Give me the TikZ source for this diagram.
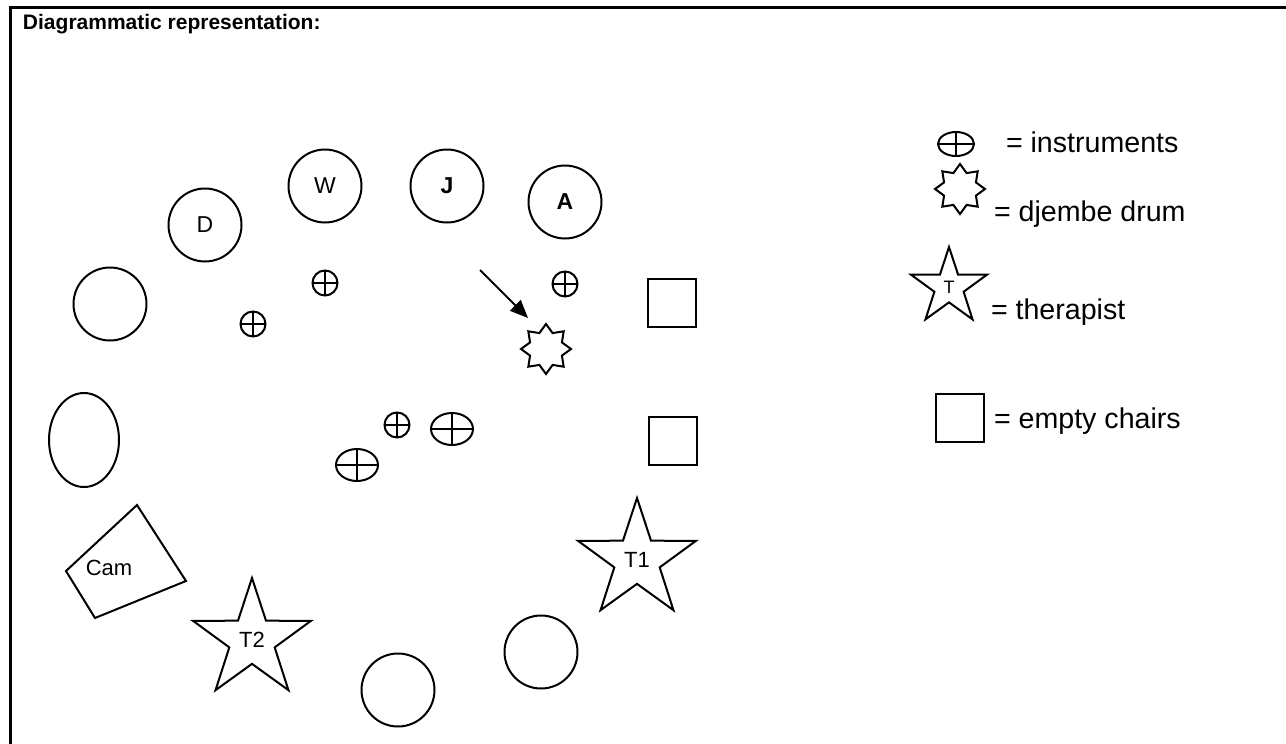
\documentclass[tikz,border=0pt]{standalone}
\usepackage{fontspec}
\setmainfont{Liberation Sans}
\usetikzlibrary{shapes.geometric, arrows.meta, positioning, calc}

\begin{document}
\begin{tikzpicture}[x=1pt, y=-1pt, line width=2pt,
  seat/.style={circle, draw, minimum size=73pt, inner sep=0pt, font=\fontsize{23}{25}\selectfont},
  boldseat/.style={seat, font=\bfseries\fontsize{23}{25}\selectfont},
  chair/.style={rectangle, draw, minimum size=48pt, inner sep=0pt},
  instr/.style={ellipse, draw, minimum width=25pt, minimum height=25pt, inner sep=0pt,
    path picture={\draw (path picture bounding box.north) -- (path picture bounding box.south)
      (path picture bounding box.west) -- (path picture bounding box.east);}},
  djembe/.style={star, star points=8, star point ratio=1.45, draw, minimum size=50pt, inner sep=0pt},
  therapist/.style={star, star points=5, star point ratio=2.6, draw, minimum size=124pt, inner sep=0pt, font=\fontsize{22}{24}\selectfont},
  key/.style={anchor=base west, inner sep=0pt, font=\fontsize{28.6}{30}\selectfont},
  >={Triangle[length=18pt, width=15pt]}]
\useasboundingbox (0,0) rectangle (1286,744);
\draw[line width=3pt] (10,744) -- (10,7) -- (1286,7);
\node[anchor=base west, inner sep=0pt, font=\bfseries\fontsize{21}{24}\selectfont] (title) at (22,30) {Diagrammatic representation:};
% people round the circle
\node[seat] (d) at (205,225) {D};
\node[seat] (w) at (325,186) {W};
\node[boldseat, right=47pt of w] (j) {J};
\node[boldseat] (a) at (565,202) {A};
\node[seat] (s1) at (110,304) {};
\node[seat, ellipse, minimum width=70pt, minimum height=94pt] (s2) at (84,440) {};
\node[seat] (s3) at (398,690) {};
\node[seat] (s4) at (541,652) {};
\node[chair] (c1) at (672,303) {};
\node[chair] (c2) at (673,441) {};
\node[therapist] (t1) at (637,560) {T1};
\node[therapist] (t2) at (252,640) {T2};
% camera
\coordinate (cam1) at (137,505);
\coordinate (cam2) at (186,581);
\coordinate (cam3) at (95,618);
\coordinate (cam4) at (66,571);
\draw (cam1) -- (cam2) -- (cam3) -- (cam4) -- cycle;
\node[font=\fontsize{22}{24}\selectfont] (cam) at (109,568) {Cam};
% instruments and drum
\node[instr] (i1) at (253,324) {};
\node[instr] (i2) at (325,283) {};
\node[instr] (i3) at (565,284) {};
\node[instr] (i4) at (397,425) {};
\node[instr, minimum width=42pt, minimum height=32pt] (i5) at (452,429) {};
\node[instr, minimum width=42pt, minimum height=32pt] (i6) at (357,465) {};
\node[djembe] (drum) at (546,349) {};
\coordinate (ptr) at (480,270);
\coordinate (ptrtip) at (528,318);
\draw[->] (ptr) -- (ptrtip);
% key
\node[instr, minimum width=36pt, minimum height=24pt] (keyinstr) at (956,144) {};
\node[key] (keyinstrtext) at (1005,152) {= instruments};
\node[djembe] (keydrum) at (960,189) {};
\node[key] (keydrumtext) at (993,221) {= djembe drum};
\node[therapist, minimum size=80pt, font=\fontsize{18}{19}\selectfont] (keyther) at (949,287) {T};
\node[key] (keythertext) at (990,319) {= therapist};
\node[chair] (keychair) at (960,418) {};
\node[key] (keychairtext) at (993,428) {= empty chairs};
\end{tikzpicture}
\end{document}
